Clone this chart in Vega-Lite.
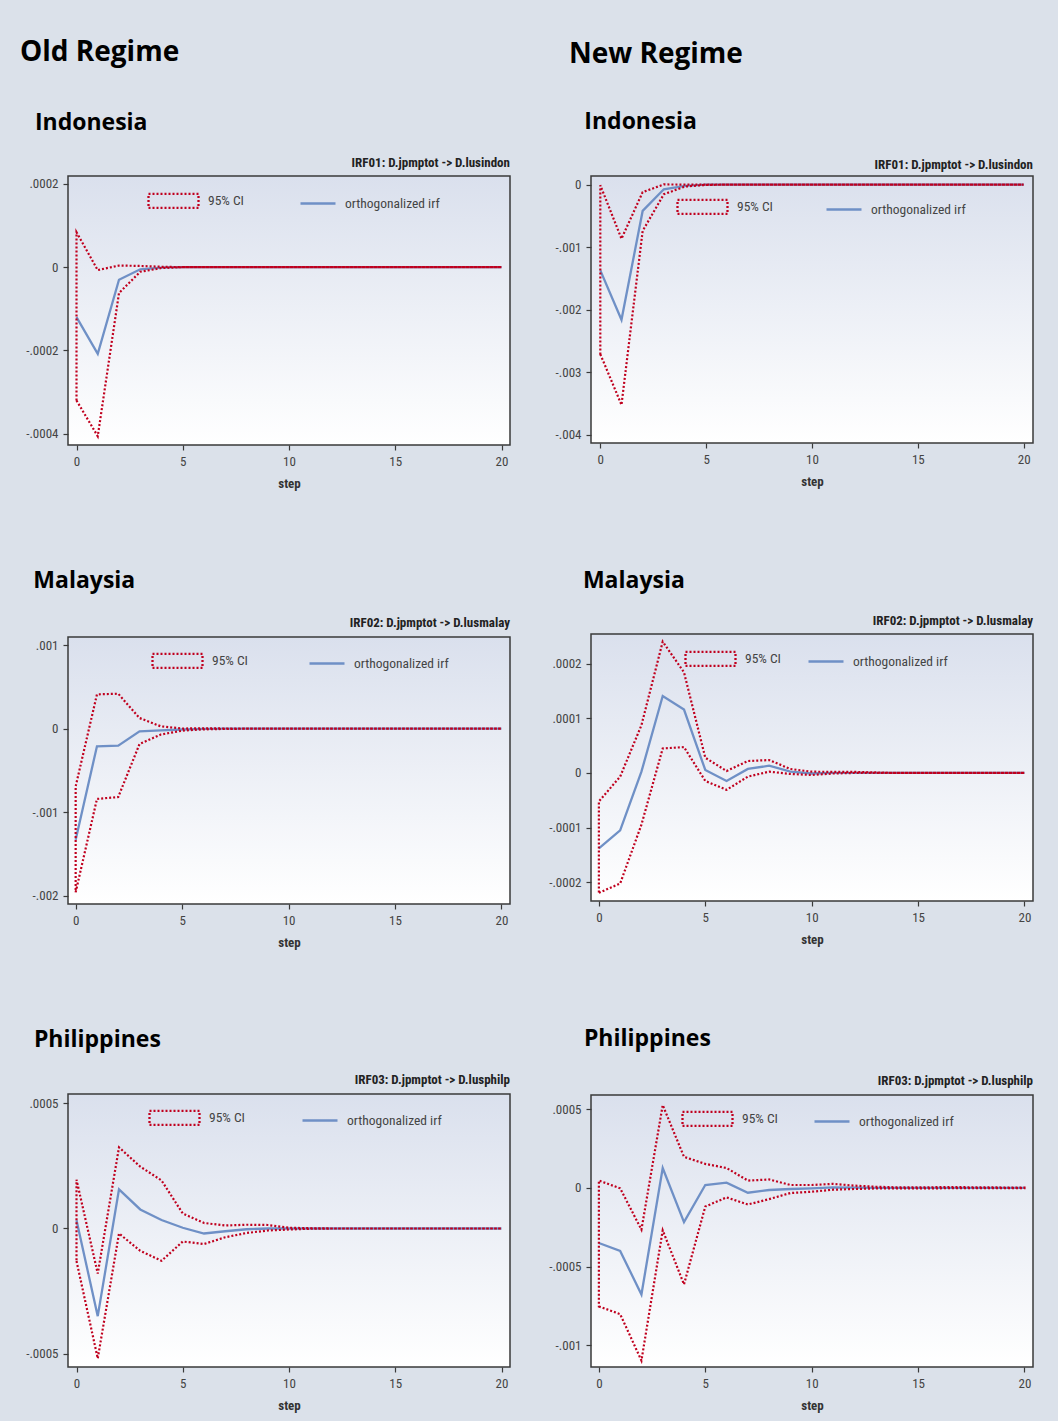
{
  "$schema": "https://vega.github.io/schema/vega-lite/v6.json",
  "background": "#dbe1ea",
  "padding": {"left": 19, "top": 39, "right": 29, "bottom": 15},
  "config": {
    "view": {
      "fill": {"gradient": "linear", "x1": 0, "y1": 0, "x2": 0, "y2": 1, "stops": [{"offset": 0, "color": "#dae0ed"}, {"offset": 1, "color": "#ffffff"}]},
      "stroke": "#3a3a3a",
      "strokeWidth": 1.5
    },
    "axis": {
      "domain": false, "grid": false, "tickColor": "#3a3a3a", "tickSize": 5, "tickWidth": 1.2,
      "labelFont": "Liberation Sans Narrow, Roboto Condensed, DejaVu Sans Condensed, sans-serif",
      "labelFontSize": 13, "labelColor": "#444", "labelPadding": 5,
      "titleFont": "Liberation Sans Narrow, Roboto Condensed, DejaVu Sans Condensed, sans-serif",
      "titleFontSize": 13, "titleFontWeight": "bold", "titleColor": "#333", "titlePadding": 9
    },
    "legend": {
      "labelFont": "Liberation Sans Narrow, Roboto Condensed, DejaVu Sans Condensed, sans-serif",
      "labelFontSize": 13.5, "labelColor": "#444", "padding": 0
    },
    "title": {"font": "Open Sans", "fontWeight": "bold", "color": "#000", "anchor": "start"}
  },
  "datasets": {
    "irf": [
      {"panel": "oi", "step": 0, "irf": -0.00012, "lower": -0.00032, "upper": 0.000084},
      {"panel": "oi", "step": 1, "irf": -0.000208, "lower": -0.000406, "upper": -0.000007},
      {"panel": "oi", "step": 2, "irf": -0.00003, "lower": -0.000062, "upper": 0.000004},
      {"panel": "oi", "step": 3, "irf": -0.000005, "lower": -0.000011, "upper": 0.000003},
      {"panel": "oi", "step": 4, "irf": -0.000001, "lower": -0.000002, "upper": 0.000001},
      {"panel": "oi", "step": 5, "irf": 0, "lower": 0, "upper": 0},
      {"panel": "oi", "step": 6, "irf": 0, "lower": 0, "upper": 0},
      {"panel": "oi", "step": 7, "irf": 0, "lower": 0, "upper": 0},
      {"panel": "oi", "step": 8, "irf": 0, "lower": 0, "upper": 0},
      {"panel": "oi", "step": 9, "irf": 0, "lower": 0, "upper": 0},
      {"panel": "oi", "step": 10, "irf": 0, "lower": 0, "upper": 0},
      {"panel": "oi", "step": 11, "irf": 0, "lower": 0, "upper": 0},
      {"panel": "oi", "step": 12, "irf": 0, "lower": 0, "upper": 0},
      {"panel": "oi", "step": 13, "irf": 0, "lower": 0, "upper": 0},
      {"panel": "oi", "step": 14, "irf": 0, "lower": 0, "upper": 0},
      {"panel": "oi", "step": 15, "irf": 0, "lower": 0, "upper": 0},
      {"panel": "oi", "step": 16, "irf": 0, "lower": 0, "upper": 0},
      {"panel": "oi", "step": 17, "irf": 0, "lower": 0, "upper": 0},
      {"panel": "oi", "step": 18, "irf": 0, "lower": 0, "upper": 0},
      {"panel": "oi", "step": 19, "irf": 0, "lower": 0, "upper": 0},
      {"panel": "oi", "step": 20, "irf": 0, "lower": 0, "upper": 0},

      {"panel": "ni", "step": 0, "irf": -0.00137, "lower": -0.00271, "upper": -0.00001},
      {"panel": "ni", "step": 1, "irf": -0.00216, "lower": -0.00352, "upper": -0.000865},
      {"panel": "ni", "step": 2, "irf": -0.00042, "lower": -0.00074, "upper": -0.00012},
      {"panel": "ni", "step": 3, "irf": -0.000074, "lower": -0.000154, "upper": 0.000003},
      {"panel": "ni", "step": 4, "irf": -0.00002, "lower": -0.00003, "upper": 0.000001},
      {"panel": "ni", "step": 5, "irf": 0, "lower": -0.000004, "upper": 0},
      {"panel": "ni", "step": 6, "irf": 0, "lower": 0, "upper": 0},
      {"panel": "ni", "step": 7, "irf": 0, "lower": 0, "upper": 0},
      {"panel": "ni", "step": 8, "irf": 0, "lower": 0, "upper": 0},
      {"panel": "ni", "step": 9, "irf": 0, "lower": 0, "upper": 0},
      {"panel": "ni", "step": 10, "irf": 0, "lower": 0, "upper": 0},
      {"panel": "ni", "step": 11, "irf": 0, "lower": 0, "upper": 0},
      {"panel": "ni", "step": 12, "irf": 0, "lower": 0, "upper": 0},
      {"panel": "ni", "step": 13, "irf": 0, "lower": 0, "upper": 0},
      {"panel": "ni", "step": 14, "irf": 0, "lower": 0, "upper": 0},
      {"panel": "ni", "step": 15, "irf": 0, "lower": 0, "upper": 0},
      {"panel": "ni", "step": 16, "irf": 0, "lower": 0, "upper": 0},
      {"panel": "ni", "step": 17, "irf": 0, "lower": 0, "upper": 0},
      {"panel": "ni", "step": 18, "irf": 0, "lower": 0, "upper": 0},
      {"panel": "ni", "step": 19, "irf": 0, "lower": 0, "upper": 0},
      {"panel": "ni", "step": 20, "irf": 0, "lower": 0, "upper": 0},

      {"panel": "om", "step": 0, "irf": -0.001327, "lower": -0.001956, "upper": -0.00069},
      {"panel": "om", "step": 1, "irf": -0.000211, "lower": -0.00084, "upper": 0.00041},
      {"panel": "om", "step": 2, "irf": -0.000203, "lower": -0.000817, "upper": 0.000418},
      {"panel": "om", "step": 3, "irf": -0.000032, "lower": -0.000183, "upper": 0.000127},
      {"panel": "om", "step": 4, "irf": -0.00002, "lower": -0.00007, "upper": 0.000028},
      {"panel": "om", "step": 5, "irf": -0.00001, "lower": -0.000024, "upper": 0.000002},
      {"panel": "om", "step": 6, "irf": -0.000003, "lower": -0.000008, "upper": 0.000004},
      {"panel": "om", "step": 7, "irf": 0, "lower": -0.000003, "upper": 0.000002},
      {"panel": "om", "step": 8, "irf": 0, "lower": 0, "upper": 0},
      {"panel": "om", "step": 9, "irf": 0, "lower": 0, "upper": 0},
      {"panel": "om", "step": 10, "irf": 0, "lower": 0, "upper": 0},
      {"panel": "om", "step": 11, "irf": 0, "lower": 0, "upper": 0},
      {"panel": "om", "step": 12, "irf": 0, "lower": 0, "upper": 0},
      {"panel": "om", "step": 13, "irf": 0, "lower": 0, "upper": 0},
      {"panel": "om", "step": 14, "irf": 0, "lower": 0, "upper": 0},
      {"panel": "om", "step": 15, "irf": 0, "lower": 0, "upper": 0},
      {"panel": "om", "step": 16, "irf": 0, "lower": 0, "upper": 0},
      {"panel": "om", "step": 17, "irf": 0, "lower": 0, "upper": 0},
      {"panel": "om", "step": 18, "irf": 0, "lower": 0, "upper": 0},
      {"panel": "om", "step": 19, "irf": 0, "lower": 0, "upper": 0},
      {"panel": "om", "step": 20, "irf": 0, "lower": 0, "upper": 0},

      {"panel": "nm", "step": 0, "irf": -0.000138, "lower": -0.000219, "upper": -0.000052},
      {"panel": "nm", "step": 1, "irf": -0.000105, "lower": -0.000202, "upper": -0.0000067},
      {"panel": "nm", "step": 2, "irf": 0.0000024, "lower": -0.0000945, "upper": 0.0000873},
      {"panel": "nm", "step": 3, "irf": 0.0001406, "lower": 0.0000448, "upper": 0.00024},
      {"panel": "nm", "step": 4, "irf": 0.0001158, "lower": 0.0000473, "upper": 0.000184},
      {"panel": "nm", "step": 5, "irf": 0.0000055, "lower": -0.0000145, "upper": 0.0000279},
      {"panel": "nm", "step": 6, "irf": -0.0000145, "lower": -0.0000309, "upper": 0.0000036},
      {"panel": "nm", "step": 7, "irf": 0.0000073, "lower": -0.0000067, "upper": 0.0000218},
      {"panel": "nm", "step": 8, "irf": 0.0000133, "lower": 0.0000024, "upper": 0.0000236},
      {"panel": "nm", "step": 9, "irf": 0.0000024, "lower": -0.0000018, "upper": 0.0000073},
      {"panel": "nm", "step": 10, "irf": -0.000001, "lower": -0.0000036, "upper": 0.0000024},
      {"panel": "nm", "step": 11, "irf": 0, "lower": -0.000001, "upper": 0.000002},
      {"panel": "nm", "step": 12, "irf": 0, "lower": 0, "upper": 0.000002},
      {"panel": "nm", "step": 13, "irf": 0, "lower": 0, "upper": 0.000001},
      {"panel": "nm", "step": 14, "irf": 0, "lower": 0, "upper": 0},
      {"panel": "nm", "step": 15, "irf": 0, "lower": 0, "upper": 0},
      {"panel": "nm", "step": 16, "irf": 0, "lower": 0, "upper": 0},
      {"panel": "nm", "step": 17, "irf": 0, "lower": 0, "upper": 0},
      {"panel": "nm", "step": 18, "irf": 0, "lower": 0, "upper": 0},
      {"panel": "nm", "step": 19, "irf": 0, "lower": 0, "upper": 0},
      {"panel": "nm", "step": 20, "irf": 0, "lower": 0, "upper": 0},

      {"panel": "op", "step": 0, "irf": 0.0000325, "lower": -0.00013, "upper": 0.000195},
      {"panel": "op", "step": 1, "irf": -0.00035, "lower": -0.000519, "upper": -0.00018},
      {"panel": "op", "step": 2, "irf": 0.000156, "lower": -0.00002, "upper": 0.000324},
      {"panel": "op", "step": 3, "irf": 0.000076, "lower": -0.000089, "upper": 0.000247},
      {"panel": "op", "step": 4, "irf": 0.000034, "lower": -0.000129, "upper": 0.000192},
      {"panel": "op", "step": 5, "irf": 0.000003, "lower": -0.000052, "upper": 0.00006},
      {"panel": "op", "step": 6, "irf": -0.00002, "lower": -0.000062, "upper": 0.000022},
      {"panel": "op", "step": 7, "irf": -0.000011, "lower": -0.000035, "upper": 0.000012},
      {"panel": "op", "step": 8, "irf": -0.000003, "lower": -0.000018, "upper": 0.000015},
      {"panel": "op", "step": 9, "irf": 0, "lower": -0.000008, "upper": 0.000014},
      {"panel": "op", "step": 10, "irf": 0, "lower": -0.000004, "upper": 0.000003},
      {"panel": "op", "step": 11, "irf": 0, "lower": -0.000001, "upper": 0.000001},
      {"panel": "op", "step": 12, "irf": 0, "lower": 0, "upper": 0},
      {"panel": "op", "step": 13, "irf": 0, "lower": 0, "upper": 0},
      {"panel": "op", "step": 14, "irf": 0, "lower": 0, "upper": 0},
      {"panel": "op", "step": 15, "irf": 0, "lower": 0, "upper": 0},
      {"panel": "op", "step": 16, "irf": 0, "lower": 0, "upper": 0},
      {"panel": "op", "step": 17, "irf": 0, "lower": 0, "upper": 0},
      {"panel": "op", "step": 18, "irf": 0, "lower": 0, "upper": 0},
      {"panel": "op", "step": 19, "irf": 0, "lower": 0, "upper": 0},
      {"panel": "op", "step": 20, "irf": 0, "lower": 0, "upper": 0},

      {"panel": "np", "step": 0, "irf": -0.00035, "lower": -0.000753, "upper": 0.000047},
      {"panel": "np", "step": 1, "irf": -0.0004, "lower": -0.000802, "upper": -0.000002},
      {"panel": "np", "step": 2, "irf": -0.000677, "lower": -0.001097, "upper": -0.000265},
      {"panel": "np", "step": 3, "irf": 0.000127, "lower": -0.000269, "upper": 0.000527},
      {"panel": "np", "step": 4, "irf": -0.000217, "lower": -0.000613, "upper": 0.000198},
      {"panel": "np", "step": 5, "irf": 0.000019, "lower": -0.000118, "upper": 0.000153},
      {"panel": "np", "step": 6, "irf": 0.000034, "lower": -0.00006, "upper": 0.000127},
      {"panel": "np", "step": 7, "irf": -0.00003, "lower": -0.000105, "upper": 0.000047},
      {"panel": "np", "step": 8, "irf": -0.000013, "lower": -0.000071, "upper": 0.000054},
      {"panel": "np", "step": 9, "irf": -0.0000065, "lower": -0.000032, "upper": 0.000019},
      {"panel": "np", "step": 10, "irf": -0.000002, "lower": -0.000024, "upper": 0.000019},
      {"panel": "np", "step": 11, "irf": 0.000004, "lower": -0.000011, "upper": 0.000026},
      {"panel": "np", "step": 12, "irf": 0.000002, "lower": -0.0000065, "upper": 0.000015},
      {"panel": "np", "step": 13, "irf": 0.000001, "lower": -0.000003, "upper": 0.000008},
      {"panel": "np", "step": 14, "irf": 0, "lower": -0.000003, "upper": 0.000004},
      {"panel": "np", "step": 15, "irf": 0, "lower": -0.000002, "upper": 0.000004},
      {"panel": "np", "step": 16, "irf": 0, "lower": -0.000002, "upper": 0.000005},
      {"panel": "np", "step": 17, "irf": 0, "lower": -0.000001, "upper": 0.000005},
      {"panel": "np", "step": 18, "irf": 0, "lower": -0.000001, "upper": 0.000004},
      {"panel": "np", "step": 19, "irf": 0, "lower": -0.000001, "upper": 0.000003},
      {"panel": "np", "step": 20, "irf": 0, "lower": -0.000001, "upper": 0.000002}
    ]
  },
  "resolve": {"scale": {"color": "independent"}, "legend": {"color": "independent"}},
  "spacing": 36,
  "hconcat": [
    {
      "title": {"text": "Old Regime", "fontSize": 28, "offset": 45, "dx": -5},
      "resolve": {"scale": {"color": "independent"}, "legend": {"color": "independent"}},
      "spacing": 79,
      "vconcat": [
        {
          "title": {"text": "Indonesia", "fontSize": 23, "offset": 21, "dx": 10},
          "resolve": {"scale": {"color": "independent"}, "legend": {"color": "independent"}},
          "vconcat": [
            {
              "title": {"text": "IRF01: D.jpmptot -> D.lusindon", "anchor": "end", "frame": "group", "font": "Liberation Sans Narrow, Roboto Condensed, DejaVu Sans Condensed, sans-serif", "fontSize": 13, "fontWeight": "bold", "color": "#222", "offset": 4},
              "width": 442, "height": 269,
              "data": {"name": "irf"},
              "transform": [{"filter": "datum.panel == 'oi'"}],
              "encoding": {"x": {"field": "step", "type": "quantitative", "scale": {"domain": [-0.4, 20.4], "nice": false, "zero": false}, "axis": {"values": [0, 5, 10, 15, 20], "title": "step"}}},
              "layer": [
                {"mark": {"type": "line", "strokeWidth": 2.3}, "encoding": {"y": {"field": "irf", "type": "quantitative", "scale": {"domain": [-0.000427, 0.000219], "nice": false, "zero": false}, "axis": {"title": null, "values": [-0.0004, -0.0002, 0, 0.0002], "labelExpr": "datum.value == 0 ? '0' : (datum.value < 0 ? '-' : '') + replace(format(abs(datum.value), '.4~f'), '0.', '.')"}}, "color": {"datum": "orthogonalized irf", "type": "nominal", "scale": {"domain": ["95% CI", "orthogonalized irf"], "range": ["#c0001e", "#6f90c6"]}, "legend": {"orient": "none", "legendX": 79, "legendY": -2, "direction": "horizontal", "title": null, "symbolSize": 2500, "labelOffset": 8, "columnPadding": 40, "encode": {"symbols": {"update": {"shape": {"signal": "datum.value == '95% CI' ? 'M-1,-0.28H1V0.28H-1Z' : 'M-0.4,0H1'"}, "strokeDash": {"signal": "datum.value == '95% CI' ? [2,2] : [1,0]"}, "strokeWidth": {"value": 2.3}, "fill": {"value": "transparent"}}}}}}}},
                {"mark": {"type": "area", "filled": false, "fill": "transparent", "strokeWidth": 2.2, "strokeDash": [2, 2]}, "encoding": {"y": {"field": "lower", "type": "quantitative"}, "y2": {"field": "upper"}, "color": {"datum": "95% CI", "type": "nominal"}}}
              ]
            }
          ]
        },
        {
          "title": {"text": "Malaysia", "fontSize": 23, "offset": 23, "dx": 2},
          "resolve": {"scale": {"color": "independent"}, "legend": {"color": "independent"}},
          "vconcat": [
            {
              "title": {"text": "IRF02: D.jpmptot -> D.lusmalay", "anchor": "end", "frame": "group", "font": "Liberation Sans Narrow, Roboto Condensed, DejaVu Sans Condensed, sans-serif", "fontSize": 13, "fontWeight": "bold", "color": "#222", "offset": 4},
              "width": 442, "height": 267,
              "data": {"name": "irf"},
              "transform": [{"filter": "datum.panel == 'om'"}],
              "encoding": {"x": {"field": "step", "type": "quantitative", "scale": {"domain": [-0.36, 20.4], "nice": false, "zero": false}, "axis": {"values": [0, 5, 10, 15, 20], "title": "step"}}},
              "layer": [
                {"mark": {"type": "line", "strokeWidth": 2.3}, "encoding": {"y": {"field": "irf", "type": "quantitative", "scale": {"domain": [-0.002096, 0.001096], "nice": false, "zero": false}, "axis": {"title": null, "values": [-0.002, -0.001, 0, 0.001], "labelExpr": "datum.value == 0 ? '0' : (datum.value < 0 ? '-' : '') + replace(format(abs(datum.value), '.4~f'), '0.', '.')"}}, "color": {"datum": "orthogonalized irf", "type": "nominal", "scale": {"domain": ["95% CI", "orthogonalized irf"], "range": ["#c0001e", "#6f90c6"]}, "legend": {"orient": "none", "legendX": 83, "legendY": -3, "direction": "horizontal", "title": null, "symbolSize": 2500, "labelOffset": 8, "columnPadding": 45, "encode": {"symbols": {"update": {"shape": {"signal": "datum.value == '95% CI' ? 'M-1,-0.28H1V0.28H-1Z' : 'M-0.4,0H1'"}, "strokeDash": {"signal": "datum.value == '95% CI' ? [2,2] : [1,0]"}, "strokeWidth": {"value": 2.3}, "fill": {"value": "transparent"}}}}}}}},
                {"mark": {"type": "area", "filled": false, "fill": "transparent", "strokeWidth": 2.2, "strokeDash": [2, 2]}, "encoding": {"y": {"field": "lower", "type": "quantitative"}, "y2": {"field": "upper"}, "color": {"datum": "95% CI", "type": "nominal"}}}
              ]
            }
          ]
        },
        {
          "title": {"text": "Philippines", "fontSize": 23, "offset": 21, "dx": 9},
          "resolve": {"scale": {"color": "independent"}, "legend": {"color": "independent"}},
          "vconcat": [
            {
              "title": {"text": "IRF03: D.jpmptot -> D.lusphilp", "anchor": "end", "frame": "group", "font": "Liberation Sans Narrow, Roboto Condensed, DejaVu Sans Condensed, sans-serif", "fontSize": 13, "fontWeight": "bold", "color": "#222", "offset": 4},
              "width": 442, "height": 273,
              "data": {"name": "irf"},
              "transform": [{"filter": "datum.panel == 'op'"}],
              "encoding": {"x": {"field": "step", "type": "quantitative", "scale": {"domain": [-0.4, 20.4], "nice": false, "zero": false}, "axis": {"values": [0, 5, 10, 15, 20], "title": "step"}}},
              "layer": [
                {"mark": {"type": "line", "strokeWidth": 2.3}, "encoding": {"y": {"field": "irf", "type": "quantitative", "scale": {"domain": [-0.000553, 0.000537], "nice": false, "zero": false}, "axis": {"title": null, "values": [-0.0005, 0, 0.0005], "labelExpr": "datum.value == 0 ? '0' : (datum.value < 0 ? '-' : '') + replace(format(abs(datum.value), '.4~f'), '0.', '.')"}}, "color": {"datum": "orthogonalized irf", "type": "nominal", "scale": {"domain": ["95% CI", "orthogonalized irf"], "range": ["#c0001e", "#6f90c6"]}, "legend": {"orient": "none", "legendX": 80, "legendY": -3, "direction": "horizontal", "title": null, "symbolSize": 2500, "labelOffset": 8, "columnPadding": 41, "encode": {"symbols": {"update": {"shape": {"signal": "datum.value == '95% CI' ? 'M-1,-0.28H1V0.28H-1Z' : 'M-0.4,0H1'"}, "strokeDash": {"signal": "datum.value == '95% CI' ? [2,2] : [1,0]"}, "strokeWidth": {"value": 2.3}, "fill": {"value": "transparent"}}}}}}}},
                {"mark": {"type": "area", "filled": false, "fill": "transparent", "strokeWidth": 2.2, "strokeDash": [2, 2]}, "encoding": {"y": {"field": "lower", "type": "quantitative"}, "y2": {"field": "upper"}, "color": {"datum": "95% CI", "type": "nominal"}}}
              ]
            }
          ]
        }
      ]
    },
    {
      "title": {"text": "New Regime", "fontSize": 28, "offset": 42, "dx": 21},
      "resolve": {"scale": {"color": "independent"}, "legend": {"color": "independent"}},
      "spacing": 81,
      "vconcat": [
        {
          "title": {"text": "Indonesia", "fontSize": 23, "offset": 24, "dx": 30},
          "resolve": {"scale": {"color": "independent"}, "legend": {"color": "independent"}},
          "vconcat": [
            {
              "title": {"text": "IRF01: D.jpmptot -> D.lusindon", "anchor": "end", "frame": "group", "font": "Liberation Sans Narrow, Roboto Condensed, DejaVu Sans Condensed, sans-serif", "fontSize": 13, "fontWeight": "bold", "color": "#222", "offset": 4},
              "width": 442, "height": 267,
              "data": {"name": "irf"},
              "transform": [{"filter": "datum.panel == 'ni'"}],
              "encoding": {"x": {"field": "step", "type": "quantitative", "scale": {"domain": [-0.44, 20.44], "nice": false, "zero": false}, "axis": {"values": [0, 5, 10, 15, 20], "title": "step"}}},
              "layer": [
                {"mark": {"type": "line", "strokeWidth": 2.3}, "encoding": {"y": {"field": "irf", "type": "quantitative", "scale": {"domain": [-0.00413, 0.000138], "nice": false, "zero": false}, "axis": {"title": null, "values": [-0.004, -0.003, -0.002, -0.001, 0], "labelExpr": "datum.value == 0 ? '0' : (datum.value < 0 ? '-' : '') + replace(format(abs(datum.value), '.4~f'), '0.', '.')"}}, "color": {"datum": "orthogonalized irf", "type": "nominal", "scale": {"domain": ["95% CI", "orthogonalized irf"], "range": ["#c0001e", "#6f90c6"]}, "legend": {"orient": "none", "legendX": 85, "legendY": 4, "direction": "horizontal", "title": null, "symbolSize": 2500, "labelOffset": 8, "columnPadding": 37, "encode": {"symbols": {"update": {"shape": {"signal": "datum.value == '95% CI' ? 'M-1,-0.28H1V0.28H-1Z' : 'M-0.4,0H1'"}, "strokeDash": {"signal": "datum.value == '95% CI' ? [2,2] : [1,0]"}, "strokeWidth": {"value": 2.3}, "fill": {"value": "transparent"}}}}}}}},
                {"mark": {"type": "area", "filled": false, "fill": "transparent", "strokeWidth": 2.2, "strokeDash": [2, 2]}, "encoding": {"y": {"field": "lower", "type": "quantitative"}, "y2": {"field": "upper"}, "color": {"datum": "95% CI", "type": "nominal"}}}
              ]
            }
          ]
        },
        {
          "title": {"text": "Malaysia", "fontSize": 23, "offset": 21, "dx": 35},
          "resolve": {"scale": {"color": "independent"}, "legend": {"color": "independent"}},
          "vconcat": [
            {
              "title": {"text": "IRF02: D.jpmptot -> D.lusmalay", "anchor": "end", "frame": "group", "font": "Liberation Sans Narrow, Roboto Condensed, DejaVu Sans Condensed, sans-serif", "fontSize": 13, "fontWeight": "bold", "color": "#222", "offset": 4},
              "width": 442, "height": 267,
              "data": {"name": "irf"},
              "transform": [{"filter": "datum.panel == 'nm'"}],
              "encoding": {"x": {"field": "step", "type": "quantitative", "scale": {"domain": [-0.37, 20.4], "nice": false, "zero": false}, "axis": {"values": [0, 5, 10, 15, 20], "title": "step"}}},
              "layer": [
                {"mark": {"type": "line", "strokeWidth": 2.3}, "encoding": {"y": {"field": "irf", "type": "quantitative", "scale": {"domain": [-0.000234, 0.000254], "nice": false, "zero": false}, "axis": {"title": null, "values": [-0.0002, -0.0001, 0, 0.0001, 0.0002], "labelExpr": "datum.value == 0 ? '0' : (datum.value < 0 ? '-' : '') + replace(format(abs(datum.value), '.4~f'), '0.', '.')"}}, "color": {"datum": "orthogonalized irf", "type": "nominal", "scale": {"domain": ["95% CI", "orthogonalized irf"], "range": ["#c0001e", "#6f90c6"]}, "legend": {"orient": "none", "legendX": 93, "legendY": -2, "direction": "horizontal", "title": null, "symbolSize": 2500, "labelOffset": 8, "columnPadding": 11, "encode": {"symbols": {"update": {"shape": {"signal": "datum.value == '95% CI' ? 'M-1,-0.28H1V0.28H-1Z' : 'M-0.4,0H1'"}, "strokeDash": {"signal": "datum.value == '95% CI' ? [2,2] : [1,0]"}, "strokeWidth": {"value": 2.3}, "fill": {"value": "transparent"}}}}}}}},
                {"mark": {"type": "area", "filled": false, "fill": "transparent", "strokeWidth": 2.2, "strokeDash": [2, 2]}, "encoding": {"y": {"field": "lower", "type": "quantitative"}, "y2": {"field": "upper"}, "color": {"datum": "95% CI", "type": "nominal"}}}
              ]
            }
          ]
        },
        {
          "title": {"text": "Philippines", "fontSize": 23, "offset": 23, "dx": 36},
          "resolve": {"scale": {"color": "independent"}, "legend": {"color": "independent"}},
          "vconcat": [
            {
              "title": {"text": "IRF03: D.jpmptot -> D.lusphilp", "anchor": "end", "frame": "group", "font": "Liberation Sans Narrow, Roboto Condensed, DejaVu Sans Condensed, sans-serif", "fontSize": 13, "fontWeight": "bold", "color": "#222", "offset": 4},
              "width": 442, "height": 272,
              "data": {"name": "irf"},
              "transform": [{"filter": "datum.panel == 'np'"}],
              "encoding": {"x": {"field": "step", "type": "quantitative", "scale": {"domain": [-0.37, 20.4], "nice": false, "zero": false}, "axis": {"values": [0, 5, 10, 15, 20], "title": "step"}}},
              "layer": [
                {"mark": {"type": "line", "strokeWidth": 2.3}, "encoding": {"y": {"field": "irf", "type": "quantitative", "scale": {"domain": [-0.001138, 0.000591], "nice": false, "zero": false}, "axis": {"title": null, "values": [-0.001, -0.0005, 0, 0.0005], "labelExpr": "datum.value == 0 ? '0' : (datum.value < 0 ? '-' : '') + replace(format(abs(datum.value), '.4~f'), '0.', '.')"}}, "color": {"datum": "orthogonalized irf", "type": "nominal", "scale": {"domain": ["95% CI", "orthogonalized irf"], "range": ["#c0001e", "#6f90c6"]}, "legend": {"orient": "none", "legendX": 90, "legendY": -3, "direction": "horizontal", "title": null, "symbolSize": 2500, "labelOffset": 8, "columnPadding": 20, "encode": {"symbols": {"update": {"shape": {"signal": "datum.value == '95% CI' ? 'M-1,-0.28H1V0.28H-1Z' : 'M-0.4,0H1'"}, "strokeDash": {"signal": "datum.value == '95% CI' ? [2,2] : [1,0]"}, "strokeWidth": {"value": 2.3}, "fill": {"value": "transparent"}}}}}}}},
                {"mark": {"type": "area", "filled": false, "fill": "transparent", "strokeWidth": 2.2, "strokeDash": [2, 2]}, "encoding": {"y": {"field": "lower", "type": "quantitative"}, "y2": {"field": "upper"}, "color": {"datum": "95% CI", "type": "nominal"}}}
              ]
            }
          ]
        }
      ]
    }
  ]
}
